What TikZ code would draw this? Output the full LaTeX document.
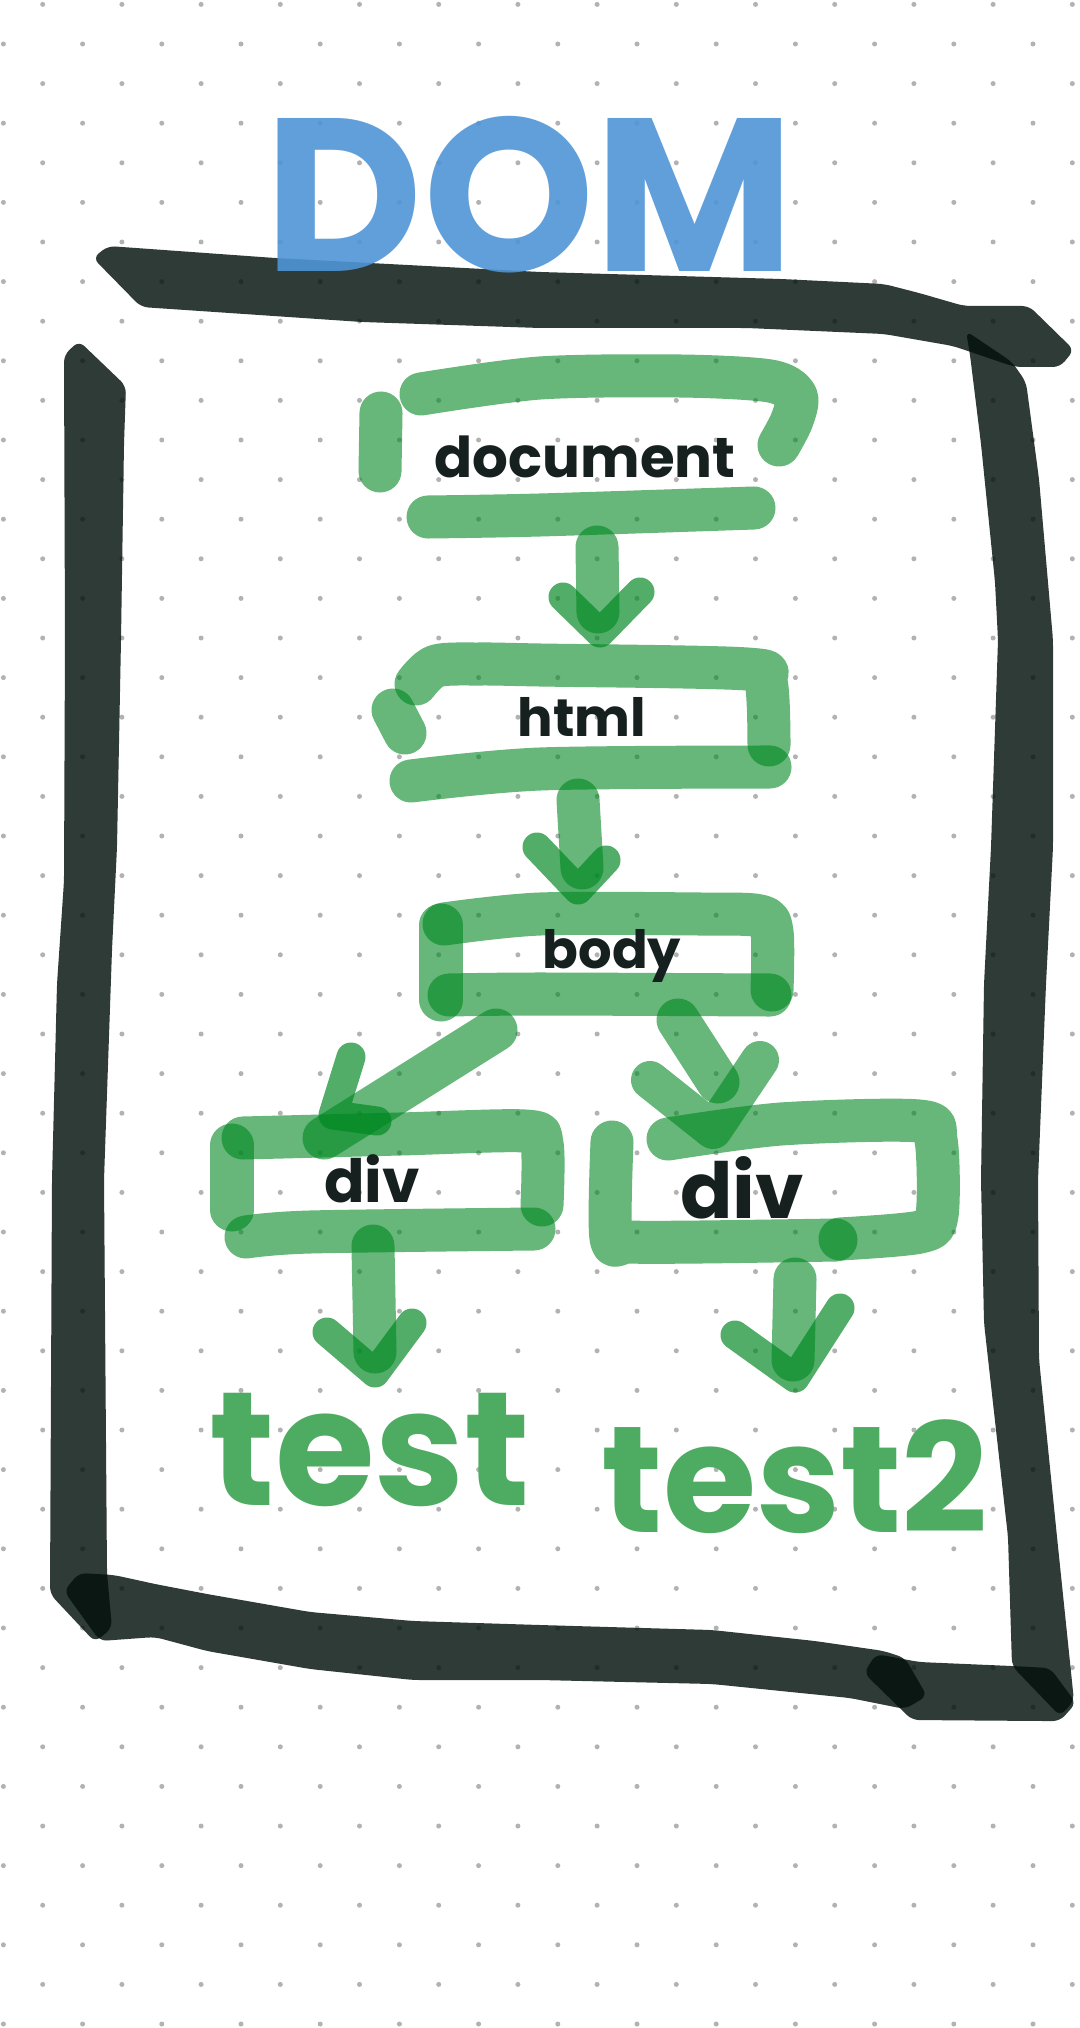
\documentclass[tikz,border=0pt]{standalone}
\usepackage{fontspec}
\setmainfont{Poppins}
\definecolor{framecol}{RGB}{2,16,12}
\definecolor{gcol}{RGB}{0,135,33}
\definecolor{gtext}{RGB}{78,172,98}
\definecolor{ink}{RGB}{22,32,30}
\definecolor{domblue}{RGB}{79,149,214}
\definecolor{dotcol}{RGB}{178,178,178}
\tikzset{
  framestroke/.style={fill=framecol, fill opacity=0.82, rounded corners=2pt},
  gline/.style={draw=gcol, draw opacity=0.6, line width=0.43cm, line cap=round, line join=round},
  ghead/.style={draw=gcol, draw opacity=0.68, line width=0.29cm, line cap=round, line join=round},
  gheadthick/.style={draw=gcol, draw opacity=0.6, line width=0.38cm, line cap=round, line join=round},
  lbl/.style={text=ink, inner sep=0pt, anchor=base},
  bigtxt/.style={text=gtext, inner sep=0pt, anchor=base}
}
\begin{document}
\begin{tikzpicture}[x=0.01cm, y=-0.01cm]
\useasboundingbox (0,0) rectangle (1080,2028);
\fill[white] (0,0) rectangle (1080,2028);
% dotted paper
\foreach \n in {0,...,51} {
  \pgfmathsetmacro\yy{4.4+39.6*\n}
  \pgfmathsetmacro\off{ifthenelse(mod(\n,2)==0,42.7,3.4)}
  \foreach \k in {0,...,13} {
    \fill[dotcol] (\off+79.2*\k,\yy) circle (0.025cm);
  }
}
% frame strokes
\fill[framestroke] (108,246) -- (275,258) -- (540,272) -- (781,279) -- (884,284) -- (919,293) -- (964,306) -- (1029,306) -- (1074,350) -- (1060,367) -- (1015,367) -- (953,346) -- (884,334) -- (747,328) -- (540,328) -- (362,322) -- (141,307) -- (93,258) -- cycle;
\fill[framestroke] (79,341) -- (64,355) -- (65,640) -- (64,881) -- (57,984) -- (52,1180) -- (50,1594) -- (95,1642) -- (112,1628) -- (107,1573) -- (104,1180) -- (112,950) -- (117,847) -- (121,640) -- (124,444) -- (126,386) -- cycle;
\fill[framestroke] (79,1573) -- (114,1575) -- (155,1584) -- (207,1594) -- (310,1612) -- (413,1621) -- (540,1625) -- (712,1630) -- (815,1641) -- (884,1651) -- (905,1658) -- (927,1696) -- (905,1709) -- (850,1698) -- (712,1684) -- (540,1680) -- (413,1680) -- (310,1669) -- (207,1651) -- (155,1637) -- (100,1641) -- (64,1591) -- cycle;
\fill[framestroke] (876,1654) -- (919,1662) -- (1012,1666) -- (1050,1668) -- (1076,1703) -- (1060,1721) -- (1043,1721) -- (912,1720) -- (864,1673) -- cycle;
\fill[framestroke] (966,331) -- (1012,362) -- (1026,382) -- (1039,479) -- (1053,640) -- (1053,847) -- (1046,984) -- (1038,1180) -- (1039,1359) -- (1057,1537) -- (1074,1701) -- (1060,1716) -- (1012,1666) -- (1008,1537) -- (984,1323) -- (981,1180) -- (984,984) -- (991,847) -- (998,640) -- (995,582) -- (981,444) -- (970,355) -- cycle;
% title
\node[text=domblue, text opacity=0.9, inner sep=0pt, anchor=base, font=\bfseries\fontsize{62pt}{62pt}\selectfont] (dom) at (530,272) {DOM};
% document box
\draw[gline] (381,413) -- (380,471);
\draw[gline] plot[smooth, tension=0.5] coordinates {(421,394) (540,378) (680,376) (770,381) (796,396) (792,420) (779,445)};
\draw[gline] plot[smooth, tension=0.5] coordinates {(428,517) (540,515) (754,508)};
\node[lbl, font=\bfseries\fontsize{16pt}{16pt}\selectfont] (doc) at (585,478) {document};
% html box
\draw[gline] plot[smooth, tension=0.5] coordinates {(416,684) (436,666) (480,664) (540,665) (747,669) (766,682) (769,745)};
\draw[gline] (393,710) -- (405,733);
\draw[gline] plot[smooth, tension=0.5] coordinates {(411,781) (540,769) (770,767)};
\node[lbl, font=\bfseries\fontsize{15pt}{15pt}\selectfont] (html) at (582,736) {html};
% body box
\draw[gline] (441,925) -- (441,1000);
\draw[gline] plot[smooth, tension=0.5] coordinates {(444,924) (540,914) (700,914) (760,916) (772,932) (772,990)};
\draw[gline] plot[smooth, tension=0.5] coordinates {(449,995) (540,994) (770,995)};
\node[lbl, font=\bfseries\fontsize{15pt}{15pt}\selectfont] (body) at (612,968) {body};
% div 1 box
\draw[gline] (232,1145) -- (232,1210);
\draw[gline] plot[smooth, tension=0.5] coordinates {(243,1138) (400,1134) (525,1131) (542,1144) (542,1205)};
\draw[gline] plot[smooth, tension=0.5] coordinates {(246,1237) (310,1232) (534,1229)};
\node[lbl, font=\bfseries\fontsize{17pt}{17pt}\selectfont] (divA) at (372,1202) {div};
% div 2 box
\draw[gline] plot[smooth, tension=0.5] coordinates {(612,1142) (611,1238) (630,1242) (700,1242) (836,1240)};
\draw[gline] plot[smooth, tension=0.5] coordinates {(668,1139) (781,1124) (919,1121) (936,1140) (937,1215) (920,1232) (840,1239)};
\node[lbl, font=\bfseries\fontsize{22pt}{22pt}\selectfont] (divB) at (742,1218) {div};
% arrow end points
\coordinate (a1s) at (597,547); \coordinate (a1e) at (598,612);
\coordinate (a1l) at (563,597); \coordinate (a1t) at (600,633); \coordinate (a1r) at (640,592);
\coordinate (a2s) at (578,800); \coordinate (a2e) at (582,868);
\coordinate (a2l) at (537,847); \coordinate (a2t) at (578,890); \coordinate (a2r) at (606,860);
\coordinate (a3s) at (496,1030); \coordinate (a3e) at (324,1138);
\coordinate (a3l) at (351,1057); \coordinate (a3t) at (333,1115); \coordinate (a3r) at (377,1121);
\coordinate (a4s) at (678,1020); \coordinate (a4e) at (718,1082);
\coordinate (a4l) at (650,1080); \coordinate (a4t) at (713,1130); \coordinate (a4r) at (760,1060);
\coordinate (a5s) at (373,1246); \coordinate (a5e) at (375,1352);
\coordinate (a5l) at (327,1332); \coordinate (a5t) at (375,1373); \coordinate (a5r) at (412,1323);
\coordinate (a6s) at (795,1279); \coordinate (a6e) at (793,1360);
\coordinate (a6l) at (735,1335); \coordinate (a6t) at (795,1378); \coordinate (a6r) at (840,1308);
% arrows
\draw[gline] (a1s) -- (a1e);  \draw[ghead] (a1l) -- (a1t) -- (a1r);
\draw[gline] (a2s) -- (a2e);  \draw[ghead] (a2l) -- (a2t) -- (a2r);
\draw[gline] (a3s) -- (a3e);  \draw[ghead] (a3l) -- (a3t) -- (a3r);
\draw[gline] (a4s) -- (a4e);  \draw[gheadthick] (a4l) -- (a4t) -- (a4r);
\draw[gline] (a5s) -- (a5e);  \draw[ghead] (a5l) -- (a5t) -- (a5r);
\draw[gline] (a6s) -- (a6e);  \draw[ghead] (a6l) -- (a6t) -- (a6r);
% leaf texts
\node[bigtxt, font=\bfseries\fontsize{46pt}{46pt}\selectfont] (testA) at (370,1505) {test};
\node[bigtxt, font=\bfseries\fontsize{43pt}{43pt}\selectfont] (testB) at (795,1532) {test2};
\end{tikzpicture}
\end{document}
